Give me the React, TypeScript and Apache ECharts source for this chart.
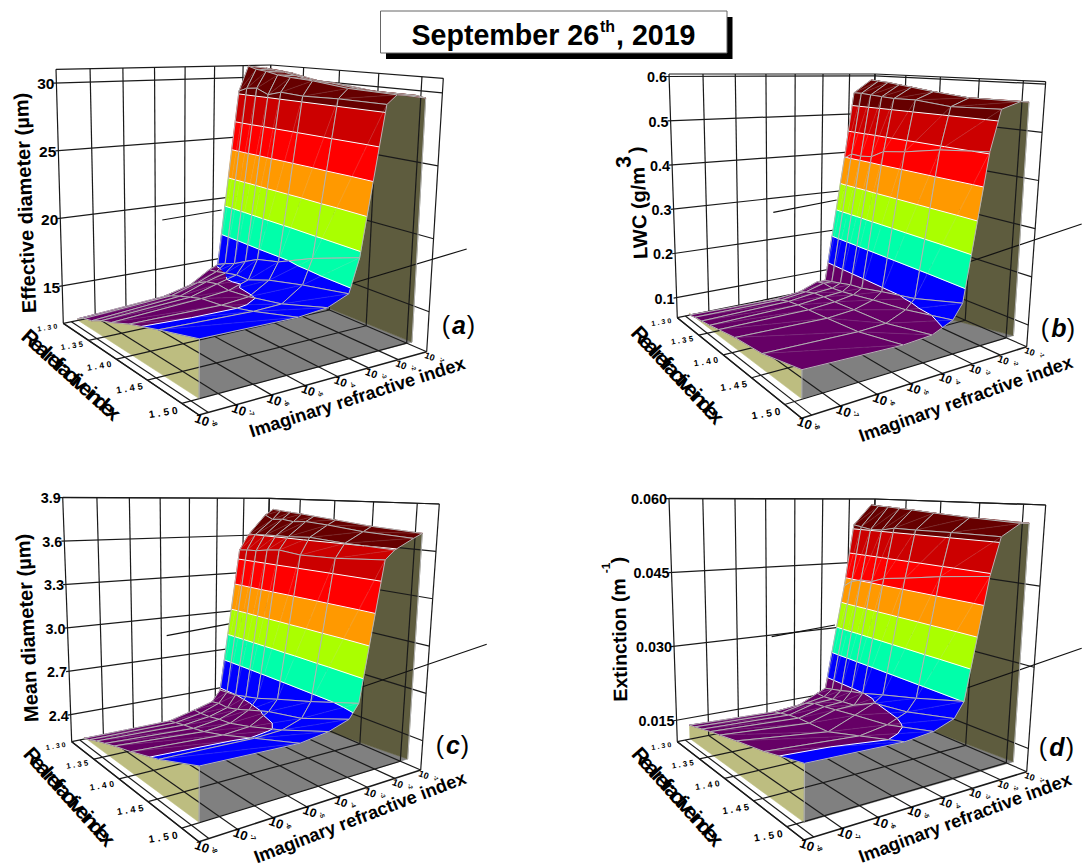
import React, { useEffect, useRef } from "react";
import * as echarts from "echarts";

const imagExponents = [-8, -5.27, -4.39, -3.74, -3.44, -2.79, -2.48, -1.85, -1.55];
const realIndices = [1.33, 1.342, 1.357, 1.374, 1.392, 1.422, 1.467, 1.523];
const realTicks = [1.3, 1.35, 1.4, 1.45, 1.5];
const imagTicks = [-8, -7, -6, -5, -4, -3, -2, -1];
const bandColors = ["#660066", "#0000ff", "#00ffaa", "#aaff00", "#ff9900", "#ff0000", "#cc0000", "#660000"];

const effectiveDiameter = [
  [13.3, 13.7, 14.2, 15.1, 15.4, 29.1, 31.1, 30.9, 30.7],
  [13.6, 14.0, 14.6, 15.2, 15.7, 29.4, 30.9, 30.8, 30.7],
  [13.8, 14.3, 15.0, 15.4, 16.0, 29.5, 30.8, 30.7, 30.6],
  [14.2, 14.6, 15.2, 15.6, 16.5, 29.1, 30.6, 30.5, 30.4],
  [14.5, 14.9, 15.1, 15.6, 17.0, 29.4, 30.5, 30.3, 30.2],
  [15.1, 15.1, 15.3, 16.2, 17.4, 29.3, 30.4, 30.2, 30.1],
  [15.8, 15.7, 15.8, 16.8, 18.5, 29.4, 30.1, 29.9, 29.8],
  [16.6, 16.6, 16.8, 17.4, 19.6, 29.4, 30.0, 29.9, 29.7],
];
const liquidWater = [
  [0.083, 0.079, 0.085, 0.101, 0.100, 0.397, 0.560, 0.592, 0.587],
  [0.087, 0.086, 0.093, 0.105, 0.105, 0.411, 0.560, 0.590, 0.584],
  [0.090, 0.093, 0.100, 0.103, 0.111, 0.410, 0.558, 0.588, 0.582],
  [0.094, 0.097, 0.103, 0.106, 0.118, 0.414, 0.556, 0.584, 0.579],
  [0.099, 0.099, 0.104, 0.111, 0.122, 0.431, 0.554, 0.580, 0.575],
  [0.107, 0.103, 0.108, 0.120, 0.134, 0.439, 0.555, 0.573, 0.569],
  [0.114, 0.110, 0.113, 0.131, 0.150, 0.456, 0.547, 0.565, 0.561],
  [0.135, 0.130, 0.134, 0.152, 0.180, 0.468, 0.551, 0.565, 0.564],
];
const meanDiameter = [
  [2.305, 2.305, 2.348, 2.384, 2.460, 3.508, 3.620, 3.773, 3.817],
  [2.323, 2.318, 2.348, 2.395, 2.465, 3.515, 3.631, 3.743, 3.810],
  [2.348, 2.333, 2.355, 2.393, 2.473, 3.519, 3.633, 3.749, 3.801],
  [2.371, 2.346, 2.371, 2.414, 2.493, 3.534, 3.637, 3.737, 3.794],
  [2.396, 2.363, 2.381, 2.445, 2.515, 3.545, 3.638, 3.744, 3.782],
  [2.431, 2.406, 2.422, 2.494, 2.565, 3.529, 3.648, 3.731, 3.765],
  [2.493, 2.485, 2.496, 2.541, 2.635, 3.537, 3.632, 3.704, 3.738],
  [2.593, 2.581, 2.607, 2.650, 2.731, 3.565, 3.622, 3.688, 3.717],
];
const extinction = [
  [0.0159, 0.0154, 0.0159, 0.0177, 0.0185, 0.0407, 0.0543, 0.0588, 0.0584],
  [0.0163, 0.0158, 0.0169, 0.0176, 0.0189, 0.0420, 0.0540, 0.0586, 0.0582],
  [0.0168, 0.0163, 0.0177, 0.0179, 0.0194, 0.0427, 0.0536, 0.0585, 0.0581],
  [0.0174, 0.0167, 0.0180, 0.0183, 0.0201, 0.0428, 0.0537, 0.0583, 0.0579],
  [0.0179, 0.0168, 0.0184, 0.0186, 0.0207, 0.0439, 0.0543, 0.0581, 0.0577],
  [0.0188, 0.0170, 0.0191, 0.0207, 0.0220, 0.0447, 0.0543, 0.0577, 0.0574],
  [0.0200, 0.0191, 0.0200, 0.0216, 0.0238, 0.0461, 0.0544, 0.0572, 0.0568],
  [0.0220, 0.0217, 0.0223, 0.0237, 0.0263, 0.0475, 0.0544, 0.0567, 0.0567],
];
const levelsA = [15.4, 17.75, 19.98, 22.2, 24.43, 26.65, 28.88];
const levelsB = [0.143, 0.207, 0.271, 0.335, 0.4, 0.464, 0.528];
const levelsC = [2.475, 2.683, 2.872, 3.061, 3.25, 3.439, 3.628];
const levelsD = [0.0208, 0.0262, 0.0317, 0.0371, 0.0425, 0.048, 0.0534];

const V0 = 1.3, V1 = 1.523, U0 = -8, U1 = -1;
type Pt = [number, number];
const FF = '"Liberation Sans", Arial, sans-serif';

function quadGH(A: Pt, D: Pt, C: Pt, g: number, h: number) {
  const mk = (k: 0 | 1) => {
    const a = D[k] * (1 + g) - A[k];
    const b = C[k] * (1 + g + h) - D[k] * (1 + g);
    return [a, b, A[k]];
  };
  const X = mk(0), Y = mk(1);
  return (s: number, t: number): Pt => {
    const q = g * s + h * t + 1;
    return [(X[0] * s + X[1] * t + X[2]) / q, (Y[0] * s + Y[1] * t + Y[2]) / q];
  };
}
function quadPersp(A: Pt, D: Pt, C: Pt, B: Pt) {
  const [x0, y0] = A, [x1, y1] = D, [x2, y2] = C, [x3, y3] = B;
  const dx1 = x1 - x2, dx2 = x3 - x2, sx = x0 - x1 + x2 - x3;
  const dy1 = y1 - y2, dy2 = y3 - y2, sy = y0 - y1 + y2 - y3;
  const den = dx1 * dy2 - dx2 * dy1;
  return [(sx * dy2 - dx2 * sy) / den, (dx1 * sy - sx * dy1) / den];
}

type Panel = any;
const panels: Panel[] = [
  { key: "a", vals: effectiveDiameter, levels: levelsA, A: [63.3,323.3], B: [199,415], C: [426.7,351.7], D: [264.7,282.3], At: [56,69.3], Ct: [443.3,78.3], Dt: [270.7,65],
    zmin: 12.26, zmax: 31, zticks: [15,20,25,30], zfmt: 0, zfont: 15.5, base: 13.2, grey: 2,
    stray: [[162.3,220,221.7,210],[466.7,249,346.7,285]],
    ylabel: ["Effective diameter (\u00b5m)", 25, 203, 92.2, 20], imag: [357.3,397.3,17.9], real: [70,373.3,42], letter: ["a",446,459,471,325] },
  { key: "b", vals: liquidWater, levels: levelsB, A: [677.3,317.7], B: [801.7,418.3], C: [1026.7,346.7], D: [868.7,278.7], At: [669,74], Ct: [1045.7,81.7], Dt: [875,74],
    zmin: 0.055, zmax: 0.605, zticks: [0.1,0.2,0.3,0.4,0.5,0.6], zfmt: 1, zfont: 14.4, base: 0.087, grey: 3,
    stray: [[773.3,212.3,836.7,200],[1081.7,224,965,263.3]],
    ylabel: ["LWC (g/m", 639, 213, 92, 20], sup: ["3", 623, 162, 21], close: [636, 150], imag: [965.7,399,19.5], real: [676.7,373.3,47], letter: ["b",1045,1059,1071,328] },
  { key: "c", vals: meanDiameter, levels: levelsC, A: [71.7,741.7], B: [199,841.7], C: [420.7,770], D: [263.3,702.3], At: [62.7,497.3], Ct: [439.3,504], Dt: [269.3,498.3],
    zmin: 2.215, zmax: 3.9, zticks: [2.4,2.7,3.0,3.3,3.6,3.9], zfmt: 1, zfont: 14.4, base: 2.312, grey: 2,
    stray: [[166.7,635.7,231.7,623.3],[486.7,644.3,358.3,688.3]],
    ylabel: ["Mean diameter (\u00b5m)", 27, 628, 92.7, 20], imag: [360,817.5,21], real: [68.3,795,48], letter: ["c",440,453,465,745] },
  { key: "d", vals: extinction, levels: levelsD, A: [677.3,741.7], B: [804,840], C: [1026.7,771.7], D: [868.7,703.7], At: [669,498.3], Ct: [1045.7,505], Dt: [875,499],
    zmin: 0.0107, zmax: 0.06, zticks: [0.015,0.03,0.045,0.06], zfmt: 3, zfont: 14.4, base: 0.0133, grey: 2,
    stray: [[771.7,636.7,835,625],[1081.7,648.3,963.3,689.3]],
    ylabel: ["Extinction (m", 619.3, 640, 91, 19.5], sup: ["-1", 606, 568, 12], close: [618, 560], imag: [965,818,20.5], real: [676.7,795,48], letter: ["d",1043,1057,1070,747] },
];

for (const p of panels) {
  const [g, h] = quadPersp(p.A, p.D, p.C, p.B);
  const F = quadGH(p.A, p.D, p.C, g, h), T = quadGH(p.At, p.Dt, p.Ct, g, h);
  p.proj = (u: number, v: number, z: number): Pt => {
    const s = (u - U0) / (U1 - U0), t = (v - V0) / (V1 - V0), w = (z - p.zmin) / (p.zmax - p.zmin);
    const f = F(s, t), gg = T(s, t);
    return [f[0] + (gg[0] - f[0]) * w, f[1] + (gg[1] - f[1]) * w];
  };
}

type V3 = [number, number, number];
function clip(poly: V3[], level: number, keepAbove: boolean): V3[] {
  const out: V3[] = [];
  for (let k = 0; k < poly.length; k++) {
    const a = poly[k], b = poly[(k + 1) % poly.length];
    const ina = keepAbove ? a[2] >= level : a[2] <= level;
    const inb = keepAbove ? b[2] >= level : b[2] <= level;
    if (ina) out.push(a);
    if (ina !== inb) {
      const r = (level - a[2]) / (b[2] - a[2]);
      out.push([a[0] + (b[0] - a[0]) * r, a[1] + (b[1] - a[1]) * r, level]);
    }
  }
  return out;
}

function buildSeries(p: Panel) {
  const out: any[] = [];
  const line = (api: any, a: Pt, b: Pt, color = "#1a1a1a", w = 1.2) => {
    const c1 = api.coord(a), c2 = api.coord(b);
    return { type: "line", shape: { x1: c1[0], y1: c1[1], x2: c2[0], y2: c2[1] }, style: { stroke: color, lineWidth: w } };
  };
  const poly = (api: any, pts: Pt[], fill: string, stroke?: string, w = 0.6) => ({
    type: "polygon",
    shape: { points: pts.map((q) => api.coord(q)) },
    style: { fill, stroke: stroke || fill, lineWidth: w },
  });
  const nI = realIndices.length, nJ = imagExponents.length;
  const P = (i: number, j: number): Pt => p.proj(imagExponents[j], realIndices[i], p.vals[i][j]);
  const Bs = (i: number, j: number): Pt => p.proj(imagExponents[j], realIndices[i], p.base);

  out.push({
    type: "custom", coordinateSystem: "cartesian2d", silent: true, clip: false, z: 2, data: [[0, 0]],
    renderItem: (_: any, api: any) => {
      const children: any[] = [];
      const yl: Pt[] = [];
      for (let i = 0; i < nI; i++) yl.push(P(i, 0));
      for (let i = nI - 1; i >= 0; i--) yl.push(Bs(i, 0));
      children.push(poly(api, yl, "#bdbd80"));
      const gr: Pt[] = [];
      for (let j = 0; j <= p.grey; j++) gr.push(P(nI - 1, j));
      gr.push(Bs(nI - 1, nJ - 1), Bs(nI - 1, 0));
      children.push(poly(api, gr, "#808080"));
      const ol: Pt[] = [];
      for (let j = p.grey; j < nJ; j++) ol.push(P(nI - 1, j));
      ol.push(Bs(nI - 1, nJ - 1));
      children.push(poly(api, ol, "#5e5c3e"));
      return { type: "group", children };
    },
  });

  out.push({
    type: "custom", coordinateSystem: "cartesian2d", silent: true, clip: false, z: 3, data: [[0, 0]],
    renderItem: (_: any, api: any) => {
      const c: any[] = [];
      const zb = p.zmin, zt = p.zmax;
      for (const u of imagTicks) {
        c.push(line(api, p.proj(u, V0, zb), p.proj(u, V0, zt)));
        c.push(line(api, p.proj(u, V0, zb), p.proj(u, V1, zb)));
      }
      for (const v of [...realTicks, V1]) {
        c.push(line(api, p.proj(U1, v, zb), p.proj(U1, v, zt)));
        c.push(line(api, p.proj(U0, v, zb), p.proj(U1, v, zb), "#1a1a1a", v === V1 ? 1.5 : 1.2));
      }
      c.push(line(api, p.proj(-7.75, V0, zb), p.proj(-7.75, V1, zb)));
      c.push(line(api, p.proj(U0, V0, zb), p.proj(U0, V1, zb), "#1a1a1a", 1.4));
      c.push(line(api, p.proj(U0, V0, zt), p.proj(U1, V0, zt)));
      c.push(line(api, p.proj(U1, V0, zt), p.proj(U1, V1, zt)));
      for (const z of p.zticks) {
        const a = p.proj(U0, V0, z);
        c.push(line(api, [a[0] - 3, a[1] + 0.3], p.proj(U1, V0, z)));
        c.push(line(api, p.proj(U1, V0, z), p.proj(U1, V1, z)));
      }
      for (const s of p.stray) c.push(line(api, [s[0], s[1]], [s[2], s[3]], "#111", 1.2));
      c.push(line(api, P(nI - 1, 0), Bs(nI - 1, 0), "#b4b4b4", 1));
      c.push(line(api, P(nI - 1, nJ - 1), Bs(nI - 1, nJ - 1), "#b4b4b4", 1));
      return { type: "group", children: c };
    },
  });

  const cells: number[][] = [];
  for (let j = nJ - 2; j >= 0; j--) for (let i = 0; i < nI - 1; i++) cells.push([i, j]);
  out.push({
    type: "custom", coordinateSystem: "cartesian2d", silent: true, clip: false, z: 4, data: cells,
    renderItem: (params: any, api: any) => {
      const [i, j] = cells[params.dataIndex];
      const V = (a: number, b: number): V3 => [imagExponents[b], realIndices[a], p.vals[a][b]];
      const tris: V3[][] = [
        [V(i, j), V(i + 1, j), V(i + 1, j + 1)],
        [V(i, j), V(i + 1, j + 1), V(i, j + 1)],
      ];
      const edges = [-Infinity, ...p.levels, Infinity];
      const c: any[] = [];
      const toS = (q: V3): Pt => p.proj(q[0], q[1], q[2]);
      for (const tri of tris) {
        for (let b = 0; b < bandColors.length; b++) {
          let pg = tri;
          if (edges[b] > -Infinity) pg = clip(pg, edges[b], true);
          if (pg.length && edges[b + 1] < Infinity) pg = clip(pg, edges[b + 1], false);
          if (pg.length >= 3) c.push(poly(api, pg.map(toS), bandColors[b]));
        }
      }
      c.push(line(api, P(i, j), P(i + 1, j + 1), "rgba(190,190,190,0.3)", 0.6));
      for (const tri of tris) {
        for (const lv of p.levels) {
          const seg: Pt[] = [];
          for (let k = 0; k < 3; k++) {
            const a = tri[k], b = tri[(k + 1) % 3];
            if ((a[2] - lv) * (b[2] - lv) < 0) {
              const r = (lv - a[2]) / (b[2] - a[2]);
              seg.push(p.proj(a[0] + (b[0] - a[0]) * r, a[1] + (b[1] - a[1]) * r, lv));
            }
          }
          if (seg.length === 2) c.push(line(api, seg[0], seg[1], "#ffffff", 1));
        }
      }
      const g = "#b4b4b4";
      c.push(line(api, P(i, j), P(i + 1, j), g, 1));
      c.push(line(api, P(i + 1, j), P(i + 1, j + 1), g, 1));
      c.push(line(api, P(i + 1, j + 1), P(i, j + 1), g, 1));
      c.push(line(api, P(i, j + 1), P(i, j), g, 1));
      return { type: "group", children: c };
    },
  });

  const texts: any[] = [];
  const T = (text: string, x: number, y: number, size: number, rot = 0, align = "center", opt: any = {}) =>
    texts.push({ text, x, y, size, rot, align, weight: "bold", style: "normal", ...opt });
  for (const z of p.zticks) {
    const a = p.proj(U0, V0, z);
    T(z.toFixed(p.zfmt), a[0] - 2, a[1] + 1, p.zfont, 0, "right");
  }
  const yl = p.ylabel;
  T(yl[0], yl[1], yl[2], yl[4], yl[3]);
  if (p.sup) {
    T(p.sup[0], p.sup[1], p.sup[2], p.sup[3], yl[3]);
    T(")", p.close[0], p.close[1], yl[4], yl[3]);
  }
  T("Imaginary refractive index", p.imag[0], p.imag[1], 18.2, p.imag[2]);
  T("Real refractive index", p.real[0], p.real[1], 21, -p.real[2]);
  realTicks.forEach((v, k) => {
    const a = p.proj(U0, v, p.zmin);
    T(v.toFixed(2), a[0] - 15 - k * 0.5, a[1] + 4 + k * 1.2, 7 + k * 0.8, 9);
  });
  imagTicks.forEach((u, k) => {
    const a = p.proj(u, V1, p.zmin);
    const s = 13 - Math.max(0, k - 2) * 0.8;
    T("10", a[0] + 3, a[1] + 5, s, -20);
    T(String(u), a[0] + 15.5, a[1] + 8, 7 - k * 0.2, -72);
  });
  const L = p.letter;
  T("(", L[1], L[4], 25, 0, "center", { weight: "normal" });
  T(L[0], L[2], L[4], 25, 0, "center", { style: "italic" });
  T(")", L[3], L[4], 25, 0, "center", { weight: "normal" });

  out.push({
    type: "custom", coordinateSystem: "cartesian2d", silent: true, clip: false, z: 5, data: texts.map((_, k) => [k, 0]),
    renderItem: (params: any, api: any) => {
      const t = texts[params.dataIndex];
      const c = api.coord([t.x, t.y]);
      return {
        type: "text", x: c[0], y: c[1], rotation: (t.rot * Math.PI) / 180,
        style: { text: t.text, fontSize: t.size, fontWeight: t.weight, fontStyle: t.style, fontFamily: FF, fill: "#000", align: t.align, verticalAlign: "middle" },
      };
    },
  });
  return out;
}

export default function App() {
  const ref = useRef<HTMLDivElement>(null);
  useEffect(() => {
    const chart = echarts.init(ref.current!, undefined, { renderer: "svg" });
    chart.setOption({
      animation: false,
      backgroundColor: "#ffffff",
      grid: { left: 0, right: 0, top: 0, bottom: 0 },
      xAxis: { type: "value", min: 0, max: 1082, show: false },
      yAxis: { type: "value", min: 0, max: 868, inverse: true, show: false },
      graphic: [
        { type: "rect", shape: { x: 386, y: 17, width: 346.5, height: 42 }, style: { fill: "#000" }, z: 10 },
        { type: "rect", shape: { x: 380.5, y: 11, width: 346.5, height: 42 }, style: { fill: "#fff", stroke: "#666", lineWidth: 1 }, z: 11 },
        { type: "text", x: 411.5, y: 34.5, z: 12, style: { text: "September 26", fontSize: 28.6, fontWeight: "bold", fontFamily: FF, fill: "#000", align: "left", verticalAlign: "middle" } },
        { type: "text", x: 600, y: 26, z: 12, style: { text: "th", fontSize: 16, fontWeight: "bold", fontFamily: FF, fill: "#000", align: "left", verticalAlign: "middle" } },
        { type: "text", x: 616, y: 34.5, z: 12, style: { text: ", 2019", fontSize: 28.6, fontWeight: "bold", fontFamily: FF, fill: "#000", align: "left", verticalAlign: "middle" } },
      ],
      series: panels.flatMap(buildSeries),
    });
    ref.current!.querySelectorAll("text").forEach((el: any) => {
      const t = el.textContent;
      if (t === "Real refractive index") el.style.letterSpacing = "-4px";
      else if (/^1\.\d\d$/.test(t)) el.style.letterSpacing = "0.3em";
    });
    return () => chart.dispose();
  }, []);
  return <div ref={ref} style={{ position: "absolute", left: 0, top: 0, width: 1082, height: 868 }} />;
}
